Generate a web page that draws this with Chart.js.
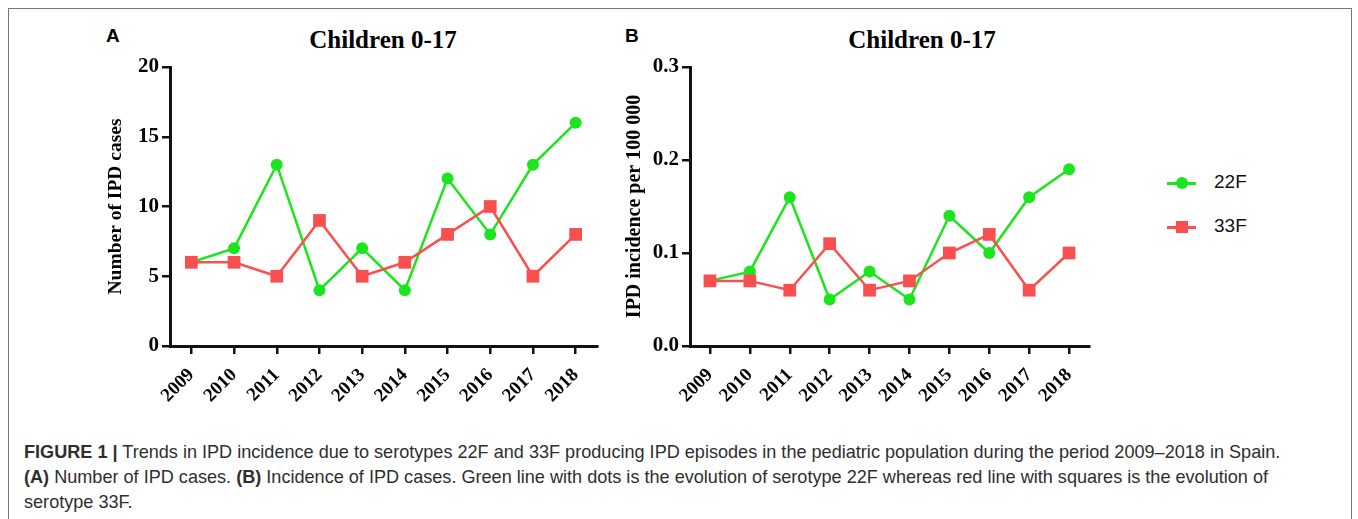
<!DOCTYPE html>
<html>
<head>
<meta charset="utf-8">
<script src="https://cdn.jsdelivr.net/npm/chart.js@4.4.0/dist/chart.umd.min.js"></script>
<style>
  body { margin: 0; background: #fff; width: 1358px; height: 519px; overflow: hidden; position: relative; }
  .frame { position: absolute; left: 8px; top: 8px; width: 1342px; height: 540px; border: 1.5px solid #777; border-bottom: none; }
  .panel { position: absolute; }
  .letter { position: absolute; font: bold 19px "Liberation Sans", Arial, sans-serif; color: #000; }
  .title { position: absolute; font: bold 25px "Liberation Serif", "Times New Roman", serif; color: #000; transform: translateX(-50%); white-space: nowrap; }
  .legend { position: absolute; left: 1167px; top: 170px; font: 19px "Liberation Sans", Arial, sans-serif; color: #111; }
  .legend .row { position: relative; height: 44px; }
  .legend .ln { position: absolute; left: 0; top: 12px; width: 29px; height: 3px; }
  .legend .mk { position: absolute; left: 9px; top: 7px; width: 12px; height: 12px; }
  .legend .tx { position: absolute; left: 47px; top: 1px; }
  .caption { position: absolute; left: 24px; top: 440px; width: 1330px; font: 18.1px "Liberation Sans", Arial, sans-serif; color: #2e2e2e; line-height: 25px; white-space: nowrap; }
</style>
</head>
<body>
<div class="frame"></div>

<div class="letter" style="left:106px;top:25px;">A</div>
<div class="letter" style="left:625px;top:25px;">B</div>
<div class="title" style="left:383px;top:26px;">Children 0-17</div>
<div class="title" style="left:922px;top:26px;">Children 0-17</div>

<canvas id="chartA" class="panel" style="left:90px;top:40px;" width="520" height="370"></canvas>
<canvas id="chartB" class="panel" style="left:600px;top:40px;" width="500" height="370"></canvas>

<div class="legend">
  <div class="row">
    <div class="ln" style="background:#1de51d"></div>
    <div class="mk" style="background:#1de51d;border-radius:50%"></div>
    <div class="tx">22F</div>
  </div>
  <div class="row">
    <div class="ln" style="background:#f94f4f"></div>
    <div class="mk" style="background:#f94f4f"></div>
    <div class="tx">33F</div>
  </div>
</div>

<div class="caption">
  <b>FIGURE 1 |</b> Trends in IPD incidence due to serotypes 22F and 33F producing IPD episodes in the pediatric population during the period 2009–2018 in Spain.<br>
  <b>(A)</b> Number of IPD cases. <b>(B)</b> Incidence of IPD cases. Green line with dots is the evolution of serotype 22F whereas red line with squares is the evolution of<br>
  serotype 33F.
</div>

<script>
const years = ["2009", "2010", "2011", "2012", "2013", "2014", "2015", "2016", "2017", "2018"];

// panel A: number of cases
const cases22F = [6, 7, 13, 4, 7, 4, 12, 8, 13, 16];
const cases33F = [6, 6, 5, 9, 5, 6, 8, 10, 5, 8];
const casesTicks = [0, 5, 10, 15, 20];

// panel B: incidence per 100 000
const incidence22F = [0.07, 0.08, 0.16, 0.05, 0.08, 0.05, 0.14, 0.10, 0.16, 0.19];
const incidence33F = [0.07, 0.07, 0.06, 0.11, 0.06, 0.07, 0.10, 0.12, 0.06, 0.10];
const incidenceTicks = [0.0, 0.1, 0.2, 0.3];

const green = "#1de51d";
const red = "#f94f4f";
const axisColor = "#111";
const serif = "'Liberation Serif', 'Times New Roman', serif";

function series(label, data, color, style, radius) {
  return {
    label: label,
    data: data,
    borderColor: color,
    backgroundColor: color,
    borderWidth: 2.5,
    pointStyle: style,
    pointRadius: radius,
    pointHoverRadius: radius,
    pointBorderWidth: 0,
    tension: 0,
    clip: false,
  };
}

function makeChart(id, d22, d33, ticks, yTitle, opts) {
  const ctx = document.getElementById(id).getContext("2d");
  return new Chart(ctx, {
    type: "line",
    data: {
      labels: years,
      datasets: [
        series("33F", d33, red, "rect", 9),
        series("22F", d22, green, "circle", 6),
      ],
    },
    options: {
      responsive: false,
      animation: false,
      layout: { padding: { top: 27, right: opts.right, left: 0, bottom: 0 } },
      plugins: { legend: { display: false }, tooltip: { enabled: false } },
      scales: {
        x: {
          offset: true,
          grid: { drawOnChartArea: false, drawTicks: true, tickLength: 8, color: axisColor, lineWidth: 2.5, offset: false },
          border: { display: true, color: axisColor, width: 3 },
          ticks: {
            color: "#000",
            font: { family: serif, size: 19, weight: "bold" },
            minRotation: 45,
            maxRotation: 45,
            padding: 10,
          },
          afterFit: (scale) => { scale.height = 64; },
        },
        y: {
          min: ticks[0],
          max: ticks[ticks.length - 1],
          afterBuildTicks: (scale) => { scale.ticks = ticks.map((v) => ({ value: v })); },
          grid: { drawOnChartArea: false, drawTicks: true, tickLength: 8, color: axisColor, lineWidth: 2.5 },
          border: { display: true, color: axisColor, width: 3 },
          ticks: {
            color: "#000",
            font: { family: serif, size: 21, weight: "bold" },
            padding: 3,
            callback: opts.fmt,
          },
          title: {
            display: true,
            text: yTitle,
            color: "#000",
            font: { family: serif, size: opts.titleSize, weight: "bold" },
            padding: { top: opts.titlePad, bottom: 0 },
          },
          afterFit: (scale) => { scale.width = opts.yWidth; },
        },
      },
    },
  });
}

makeChart("chartA", cases22F, cases33F, casesTicks, "Number of IPD cases", {
  right: 13, yWidth: 80, titlePad: 14, titleSize: 19.5, fmt: (v) => v,
});
makeChart("chartB", incidence22F, incidence33F, incidenceTicks, "IPD incidence per 100 000", {
  right: 11, yWidth: 90, titlePad: 23, titleSize: 20, fmt: (v) => Number(v).toFixed(1),
});
</script>
</body>
</html>
